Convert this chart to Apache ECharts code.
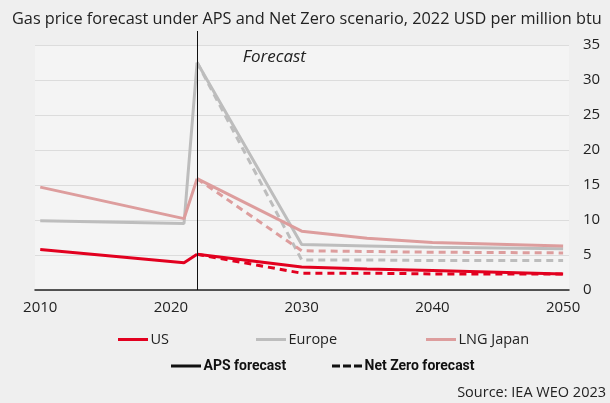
<!DOCTYPE html>
<html>
<head>
<meta charset="utf-8">
<script src="https://cdn.jsdelivr.net/npm/echarts@6/dist/echarts.min.js"></script>
<style>
  html, body { margin: 0; padding: 0; background: #efefef; }
  #chart { width: 610px; height: 403px; }
</style>
</head>
<body>
<div id="chart"></div>
<script>
// Historical years and values (2010, 2021, 2022)
const histYears = [2010, 2021, 2022];
const usHist = [5.8, 3.9, 5.1];
const europeHist = [9.9, 9.5, 32.5];
const japanHist = [14.7, 10.2, 15.9];

// Forecast years (from 2022 onward)
const fcYears = [2022, 2030, 2035, 2040, 2050];
// Announced Pledges Scenario
const usAps = [5.1, 3.3, 3.0, 2.8, 2.3];
const europeAps = [32.5, 6.5, 6.3, 6.1, 5.9];
const japanAps = [15.9, 8.4, 7.4, 6.8, 6.3];
// Net Zero scenario
const usNz = [5.1, 2.4, 2.4, 2.3, 2.3];
const europeNz = [32.5, 4.3, 4.3, 4.2, 4.2];
const japanNz = [15.9, 5.6, 5.5, 5.4, 5.3];

const xTicks = [2010, 2020, 2030, 2040, 2050];
const forecastStart = 2022;

const FONT = '"Open Sans", "Noto Sans", sans-serif';
const BOLD_FONT = '"Liberation Sans Narrow", "Roboto", sans-serif';
const RED = '#e2001f';
const GREY = '#bdbdbd';
const PINK = '#dd9d9d';

const SOLID_ICON = 'path://M0,0H30V3H0Z';
const DASH_ICON = 'path://M0,0H8V3H0Z M11,0H19V3H11Z M22,0H30V3H22Z';

function pairs(xs, ys) { return xs.map((x, i) => [x, ys[i]]); }

function solid(name, color, years, vals, z) {
  return {
    name, type: 'line', data: pairs(years, vals), symbol: 'none',
    lineStyle: { color, width: 3 }, itemStyle: { color }, z
  };
}
function dashed(name, color, years, vals, z) {
  return {
    name, type: 'line', data: pairs(years, vals), symbol: 'none',
    lineStyle: { color, width: 3, type: [7, 5] }, itemStyle: { color }, z
  };
}

function legendItem(name, icon, left, top, bold) {
  return {
    data: [{ name, icon }],
    left, top, itemWidth: 31, itemHeight: 3, itemGap: 0, padding: 0,
    selectedMode: false,
    textStyle: bold
      ? { fontSize: 14, color: '#111', fontWeight: 'bold', fontFamily: BOLD_FONT, padding: [0, 0, 0, -3] }
      : { fontSize: 14.5, color: '#222', fontFamily: FONT, padding: [0, 0, 0, -3] }
  };
}

const chart = echarts.init(document.getElementById('chart'));
const option = {
  backgroundColor: '#efefef',
  animation: false,
  textStyle: { fontFamily: FONT },
  title: {
    text: 'Gas price forecast under APS and Net Zero scenario, 2022 USD per million btu',
    left: 7, top: 6,
    textStyle: { fontFamily: FONT, fontSize: 16.3, fontWeight: 'normal', color: '#222' }
  },
  grid: { left: 35, right: 41, top: 45, bottom: 113, show: true, backgroundColor: '#f4f4f4', borderWidth: 0 },
  xAxis: {
    type: 'value', min: 2009.6, max: 2050.45,
    axisLine: { show: true, lineStyle: { color: '#222', width: 1.5 } },
    axisTick: { show: false },
    splitLine: { show: false },
    axisLabel: {
      customValues: xTicks, fontSize: 15, color: '#222', margin: 10, fontFamily: FONT,
      formatter: v => String(v)
    }
  },
  yAxis: {
    type: 'value', position: 'right', min: 0, max: 35, interval: 5,
    axisLine: { show: false }, axisTick: { show: false },
    splitLine: { lineStyle: { color: '#dcdcdc', width: 1 } },
    axisLabel: { fontSize: 15, color: '#222', margin: 14, fontFamily: FONT }
  },
  legend: [
    legendItem('US', SOLID_ICON, 118, 332, false),
    legendItem('Europe', SOLID_ICON, 256, 332, false),
    legendItem('LNG Japan', SOLID_ICON, 426, 332, false),
    legendItem('APS forecast', SOLID_ICON, 171, 359, true),
    legendItem('Net Zero forecast', DASH_ICON, 332, 359, true)
  ],
  series: [
    solid('US', RED, histYears, usHist, 6),
    solid('US', RED, fcYears, usAps, 6),
    dashed('US', RED, fcYears, usNz, 6),
    solid('Europe', GREY, histYears, europeHist, 3),
    solid('Europe', GREY, fcYears, europeAps, 3),
    dashed('Europe', GREY, fcYears, europeNz, 3),
    solid('LNG Japan', PINK, histYears, japanHist, 4),
    solid('LNG Japan', PINK, fcYears, japanAps, 4),
    dashed('LNG Japan', PINK, fcYears, japanNz, 4),
    { name: 'APS forecast', type: 'line', data: [], symbol: 'none', lineStyle: { color: '#111', width: 3 }, itemStyle: { color: '#111' } },
    { name: 'Net Zero forecast', type: 'line', data: [], symbol: 'none', lineStyle: { color: '#111', width: 3, type: [7, 5] }, itemStyle: { color: '#111' } }
  ]
};
chart.setOption(option);

// Forecast divider and label, positioned through the chart's own scales
const base = chart.convertToPixel({ gridIndex: 0 }, [forecastStart, 0]);
const top35 = chart.convertToPixel({ gridIndex: 0 }, [forecastStart, 35]);
const lbl = chart.convertToPixel({ gridIndex: 0 }, [2025.5, 33.2]);
chart.setOption({
  graphic: [
    {
      type: 'line', z: 10,
      shape: { x1: Math.round(base[0]) + 0.5, y1: top35[1] - 14, x2: Math.round(base[0]) + 0.5, y2: base[1] },
      style: { stroke: '#111', lineWidth: 1 }
    },
    {
      type: 'text', z: 10, x: lbl[0], y: lbl[1],
      style: { text: 'Forecast', font: 'italic 17px ' + FONT, fill: '#222', textVerticalAlign: 'middle' }
    },
    {
      type: 'text', right: 4, top: 385,
      style: { text: 'Source: IEA WEO 2023', font: '14.5px ' + FONT, fill: '#222' }
    }
  ]
});
</script>
</body>
</html>
